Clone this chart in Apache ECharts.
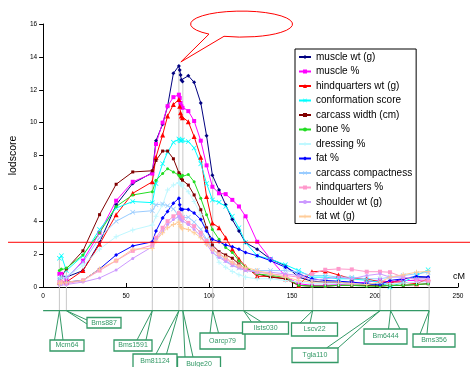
<!DOCTYPE html>
<html>
<head>
<meta charset="utf-8">
<script src="https://cdn.jsdelivr.net/npm/echarts@6/dist/echarts.min.js"></script>
<style>
html, body { margin: 0; padding: 0; background: #fff; }
#chart { width: 470px; height: 367px; }
</style>
</head>
<body>
<div id="chart"></div>
<script>
// map positions (cM) shared by every trait
var cmPos = [9.8, 11, 14, 24, 34, 44, 54, 65.8, 68, 72, 75, 78.5, 81.8, 82.3, 82.8, 83.3, 84, 87.5, 91, 95, 98.5,
  102, 106, 110, 114, 118, 122, 129, 137, 146, 154, 162, 170, 178, 186, 195, 203, 209, 217, 225, 232];

var muscleWt = [0.5, 0.7, 0.6, 1.0, 2.7, 5.0, 6.3, 6.95, 8.9, 9.9, 11.0, 13.0, 13.45, 13.2, 12.9, 12.6, 12.5, 12.85, 12.45, 11.2, 9.2,
  6.8, 5.9, 5.0, 4.1, 3.4, 2.7, 2.3, 1.7, 1.3, 0.6, 0.35, 0.3, 0.3, 0.2, 0.15, 0.1, 0.25, 0.5, 0.6, 0.6];
var musclePct = [0.8, 0.8, 0.5, 1.6, 3.3, 5.25, 6.4, 6.9, 8.7, 10.0, 11.0, 11.55, 11.7, 11.5, 11.2, 11.0, 10.9, 10.7, 10.1, 8.9, 7.4,
  6.1, 5.7, 5.65, 5.3, 4.9, 4.3, 2.75, 1.7, 0.65, 0.2, 0.1, 0.1, 0.15, 0.2, 0.3, 0.4, 0.3, 0.4, 0.4, 0.35];
var hqWt = [0.3, 0.4, 0.3, 1.0, 2.6, 4.4, 5.7, 6.4, 7.9, 9.25, 10.4, 11.1, 11.4, 11.0, 10.6, 10.4, 10.3, 10.05, 9.15, 7.9, 5.5,
  3.9, 3.6, 3.0, 2.3, 1.7, 1.25, 0.65, 0.65, 0.5, 0.1, 0.93, 0.97, 0.73, 0.5, 0.5, 0.3, 0.3, 0.3, 0.2, 0.5];
var conformation = [1.75, 1.9, 1.0, 1.9, 3.5, 4.8, 5.2, 5.13, 6.3, 7.5, 8.2, 8.8, 9.0, 8.95, 8.9, 8.9, 8.95, 8.85, 8.45, 7.5, 6.3,
  5.3, 5.15, 4.9, 4.3, 3.6, 2.7, 1.9, 1.7, 1.35, 1.0, 0.6, 0.6, 0.5, 0.5, 0.4, 0.3, 0.0, 0.3, 0.7, 1.05];
var carcWidth = [0.3, 0.6, 1.1, 2.2, 4.4, 6.25, 7.0, 7.07, 7.7, 8.27, 8.27, 7.8, 6.95, 6.85, 6.7, 6.6, 6.5, 6.2, 5.6, 4.7, 3.6,
  2.55, 2.15, 1.95, 1.75, 1.4, 1.1, 0.8, 0.6, 0.5, 0.1, 0.05, 0.05, 0.1, 0.1, 0.1, 0.05, 0.1, 0.1, 0.15, 0.2];
var bonePct = [1.0, 1.1, 1.15, 1.95, 3.3, 4.9, 5.6, 5.8, 6.5, 6.9, 7.2, 7.0, 6.8, 6.75, 6.7, 6.7, 6.8, 6.85, 6.4, 5.4, 4.4,
  3.5, 2.9, 2.4, 2.1, 1.6, 1.2, 0.8, 0.7, 0.6, 0.1, 0.05, 0.05, 0.1, 0.1, 0.05, 0.05, 0.1, 0.1, 0.15, 0.2];
var dressingPct = [0.5, 0.6, 0.6, 1.3, 2.3, 3.06, 3.47, 3.77, 4.3, 5.0, 5.9, 6.2, 6.35, 6.3, 6.25, 6.2, 6.2, 5.8, 5.2, 4.4, 3.4,
  2.3, 1.5, 1.2, 0.95, 0.75, 0.6, 0.5, 0.5, 0.4, 0.3, 0.2, 0.2, 0.2, 0.2, 0.2, 0.2, 0.2, 0.25, 0.3, 0.3];
var fatPct = [0.2, 0.3, 0.3, 0.4, 1.1, 1.95, 2.5, 2.75, 3.4, 4.2, 4.6, 5.1, 5.4, 5.0, 4.75, 4.72, 4.72, 4.72, 4.5, 4.1, 3.4,
  2.9, 2.76, 2.55, 2.45, 2.3, 2.1, 1.9, 1.6, 1.2, 0.8, 0.5, 0.4, 0.35, 0.3, 0.2, 0.15, 0.4, 0.5, 0.65, 0.6];
var compactness = [0.5, 0.6, 0.6, 1.5, 3.0, 4.0, 4.54, 4.64, 5.0, 5.05, 4.95, 4.75, 4.3, 4.2, 4.2, 4.2, 4.25, 4.25, 3.95, 3.5, 2.9,
  2.35, 1.9, 1.6, 1.35, 1.15, 1.0, 1.0, 1.0, 1.0, 0.9, 0.7, 0.7, 0.6, 0.6, 0.5, 0.5, 0.6, 0.7, 0.8, 0.9];
var hqPct = [0.3, 0.3, 0.2, 0.4, 1.0, 1.6, 2.2, 2.55, 3.0, 3.6, 4.0, 4.3, 4.5, 4.4, 4.3, 4.2, 4.2, 3.9, 3.7, 3.3, 2.8,
  2.3, 2.0, 1.7, 1.45, 1.25, 1.05, 0.9, 0.8, 0.7, 0.6, 0.8, 1.05, 1.1, 1.07, 0.93, 0.93, 0.9, 0.6, 0.45, 0.4];
var shoulderWt = [0.1, 0.15, 0.15, 0.3, 0.55, 1.03, 1.74, 2.45, 2.9, 3.4, 3.8, 4.1, 4.3, 4.2, 4.1, 4.05, 4.0, 3.8, 3.5, 3.1, 2.6,
  2.1, 1.8, 1.55, 1.3, 1.15, 1.0, 0.9, 0.9, 0.8, 0.7, 0.4, 0.5, 0.6, 0.5, 0.7, 0.8, 0.6, 0.6, 0.5, 0.5];
var fatWt = [0.2, 0.25, 0.3, 0.4, 1.1, 1.6, 2.3, 2.35, 2.8, 3.3, 3.6, 3.8, 3.95, 3.8, 3.7, 3.6, 3.55, 3.5, 3.3, 3.0, 2.6,
  2.3, 2.0, 1.8, 1.5, 1.3, 1.2, 1.0, 0.8, 0.6, 0.4, 0.3, 0.3, 0.3, 0.2, 0.15, 0.3, 0.6, 0.75, 0.9, 0.95];

var traitNames = ['muscle wt (g)', 'muscle %', 'hindquarters wt (g)', 'conformation score', 'carcass width (cm)', 'bone %',
  'dressing %', 'fat %', 'carcass compactness', 'hindquarters %', 'shoulder wt (g)', 'fat wt (g)'];
var traitValues = [muscleWt, musclePct, hqWt, conformation, carcWidth, bonePct, dressingPct, fatPct, compactness, hqPct, shoulderWt, fatWt];

var markerNames = ['Mcm64', 'Bms887', 'Bms1591', 'Bm81124', 'Bulge20', 'Oarcp79', 'Ilsts030', 'Lscv22', 'Tgla110', 'Bm6444', 'Bms356'];
var markerCm = [9.8, 14, 65.8, 81.8, 84.2, 102.2, 120.8, 162.4, 203, 209.4, 232.6];

var lodThreshold = 2.72;

// styling
var crossPath = 'path://M1,0L5,4L9,0L10,1L6,5L10,9L9,10L5,6L1,10L0,9L4,5L0,1Z';
var plusPath = 'path://M4,0H6V4H10V6H6V10H4V6H0V4H4Z';
var traitStyle = [
  ['#000080', 'diamond', 4], ['#ff00ff', 'rect', 4], ['#ff0000', 'triangle', 5], ['#00ffff', crossPath, 5],
  ['#800000', 'rect', 3], ['#22dd22', 'circle', 3], ['#bff8ff', plusPath, 5], ['#0000ff', 'diamond', 4],
  ['#99ccff', crossPath, 5], ['#ff99cc', 'rect', 4], ['#cc99ff', 'circle', 3], ['#ffcc99', plusPath, 5]
];
var green = '#339966';
var greenLineY = 310.7;
// label box layout: x, y, w, h, wedge point 1, wedge point 2 (pixels)
var markerBoxes = [
  [50, 340, 34, 11, 54.5, 340, 63, 340],
  [87, 317.5, 34, 10.5, 87, 320, 87, 324],
  [114, 340, 38, 11, 137, 340, 146, 340],
  [133, 354, 44, 15, 156, 354, 166.5, 354],
  [177.5, 357, 43, 14, 185, 357, 193, 357],
  [200, 333, 45, 16, 210, 333, 218.5, 333],
  [242.5, 322, 46, 12, 251.5, 322, 261.5, 322],
  [291.5, 323, 46, 13, 300, 323, 310, 323],
  [292, 348, 46, 14.5, 326.5, 348, 338, 348],
  [364, 329, 43, 15, 388.5, 329, 400, 329],
  [413, 334, 42, 13, 420, 334, 427, 334]
];

var chart = echarts.init(document.getElementById('chart'), null, { renderer: 'canvas' });
var font = '"Liberation Sans", Arial, sans-serif';

// top of each marker's grey line = highest trait at nearest map position
function markerTop(cm) {
  var best = 0, bi = 0;
  for (var i = 0; i < cmPos.length; i++) {
    if (Math.abs(cmPos[i] - cm) < Math.abs(cmPos[bi] - cm)) bi = i;
  }
  traitValues.forEach(function (v) { if (v[bi] > best) best = v[bi]; });
  return best;
}

var series = traitNames.map(function (name, k) {
  var st = traitStyle[k];
  return {
    name: name,
    type: 'line',
    data: cmPos.map(function (x, i) { return [x, traitValues[k][i]]; }),
    symbol: st[1],
    symbolSize: st[2],
    showAllSymbol: true,
    lineStyle: { width: 1, color: st[0] },
    itemStyle: { color: st[0] },
    z: 3
  };
});

series.push({
  type: 'custom',
  name: 'markers',
  z: 1,
  silent: true,
  data: markerCm.map(function (c, i) { return [c, markerTop(c), i]; }),
  renderItem: function (params, api) {
    var i = api.value(2);
    var base = api.coord([api.value(0), 0]);
    var top = api.coord([api.value(0), api.value(1)]);
    var b = markerBoxes[i];
    return {
      type: 'group',
      children: [
        { type: 'line', shape: { x1: base[0], y1: greenLineY, x2: base[0], y2: top[1] }, style: { stroke: '#c8c8c8', lineWidth: 1 } },
        { type: 'polyline', shape: { points: [[b[4], b[5]], [base[0], greenLineY], [b[6], b[7]]] }, style: { stroke: green, fill: null, lineWidth: 1 } },
        { type: 'rect', shape: { x: b[0], y: b[1], width: b[2], height: b[3] }, style: { fill: '#fff', stroke: green, lineWidth: 1.3 } },
        { type: 'text', style: { x: b[0] + b[2] / 2, y: b[1] + b[3] / 2, text: markerNames[i], fill: green,
          fontSize: 7, fontFamily: font, align: 'center', verticalAlign: 'middle' } }
      ]
    };
  }
});

// speech-bubble callout pointing at the muscle wt peak
var peakIdx = muscleWt.indexOf(Math.max.apply(null, muscleWt));
series.push({
  type: 'custom',
  name: 'callout',
  z: 10,
  silent: true,
  data: [[cmPos[peakIdx], muscleWt[peakIdx]]],
  renderItem: function (params, api) {
    var p = api.coord([api.value(0), api.value(1)]);
    var tx = p[0] + 2, ty = p[1] - 4;
    return {
      type: 'path',
      shape: { pathData: 'M209,34.1 A51,13 0 1 1 224,36.3 L' + tx + ',' + ty + ' Z' },
      style: { fill: '#fff', stroke: '#ff0000', lineWidth: 1 }
    };
  }
});

var option = {
  animation: false,
  backgroundColor: '#fff',
  grid: { left: 42, right: 12, top: 24, bottom: 80, containLabel: false },
  legend: {
    data: traitNames,
    orient: 'vertical',
    left: 295,
    top: 49,
    padding: [3, 4, 2, 3],
    itemWidth: 12,
    itemHeight: 5,
    itemGap: 4.5,
    backgroundColor: '#fff',
    borderColor: '#000',
    borderWidth: 1,
    textStyle: { fontSize: 10, fontFamily: font, color: '#000', lineHeight: 10 }
  },
  xAxis: {
    type: 'value',
    min: 0,
    max: 250,
    interval: 50,
    splitLine: { show: false },
    axisLine: { lineStyle: { color: '#000', width: 1 } },
    axisTick: { inside: true, length: 4, lineStyle: { color: '#000' } },
    axisLabel: { fontSize: 6.5, fontFamily: font, color: '#000', margin: 6 }
  },
  yAxis: {
    type: 'value',
    min: 0,
    max: 16,
    interval: 2,
    name: 'lodscore',
    nameLocation: 'middle',
    nameGap: 16,
    nameTextStyle: { fontSize: 10.5, fontFamily: font, color: '#000' },
    splitLine: { show: false },
    axisLine: { show: true, lineStyle: { color: '#000', width: 1 } },
    axisTick: { show: true, length: 4, lineStyle: { color: '#000' } },
    axisLabel: { fontSize: 6.5, fontFamily: font, color: '#000', margin: 6 }
  },
  series: series
};

chart.setOption(option);

// threshold line, marker baseline and axis unit
var yThr = chart.convertToPixel({ yAxisIndex: 0 }, lodThreshold);
var x0 = chart.convertToPixel({ xAxisIndex: 0 }, 0);
var xLast = chart.convertToPixel({ xAxisIndex: 0 }, markerCm[markerCm.length - 1]);

chart.setOption({
  graphic: [
    { type: 'line', z: 10, shape: { x1: 8, y1: yThr, x2: 470, y2: yThr }, style: { stroke: '#ff0000', lineWidth: 1 } },
    { type: 'line', z: 10, shape: { x1: x0, y1: greenLineY, x2: xLast, y2: greenLineY }, style: { stroke: green, lineWidth: 1.2 } },
    { type: 'text', z: 10, x: 459, y: 277, style: { text: 'cM', fontSize: 9, fontFamily: font, fill: '#000', align: 'center', verticalAlign: 'middle' } }
  ]
});

window.addEventListener('resize', chart.resize);
</script>
</body>
</html>
